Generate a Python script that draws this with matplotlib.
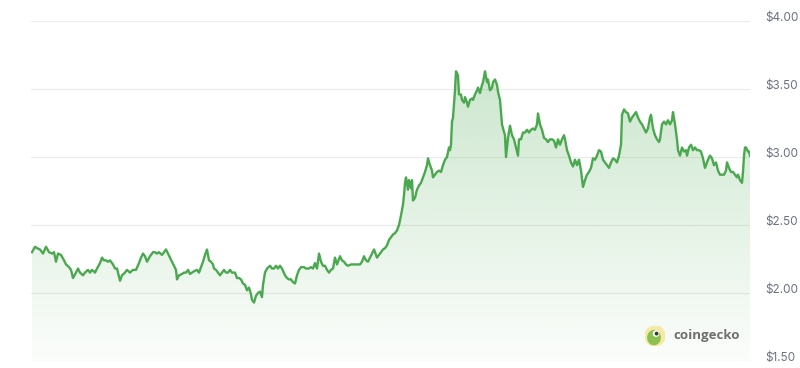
import numpy as np
import matplotlib
import matplotlib.pyplot as plt
import matplotlib.transforms as mtransforms
from matplotlib.patches import Circle, Ellipse

# price history (day offset, USD)
day = [0.5, 2, 3, 4.5, 6, 7.5, 9, 10.5, 11.5, 12.5, 13.5, 15, 16.5, 17.5, 19, 20, 21, 22.5, 23.5, 24.5,
       26, 27, 28.5, 29.5, 30.5, 32, 33, 34.5, 35.5, 36.5, 37.5, 38.5, 39.5, 41, 42, 43, 44.5, 45.5, 47, 48,
       49.5, 51, 52.5, 54, 55, 56, 57, 58, 59.5, 61, 62, 63, 64, 65.5, 66.5, 67.5, 68.5, 69.5, 70.5, 71.5,
       72.5, 73, 74, 75.5, 76.5, 77.5, 78.5, 79.5, 80.5, 81.5, 83, 84, 85, 86, 87, 88, 88.5, 89, 90, 91,
       91.5, 92.5, 93.5, 94.5, 95.5, 96.5, 97.5, 98.5, 99.5, 100.5, 102, 103, 104, 105, 106, 107, 108, 109, 110, 110.5,
       111.5, 112.5, 113.5, 114.5, 115.5, 116, 117, 118, 119.5, 120.5, 121.5, 122.5, 123.5, 124.5, 125.5, 127, 128, 129, 130, 131,
       132, 133, 134, 135, 136.5, 137.5, 139, 140, 141, 142, 143, 144, 145, 146, 147, 148, 149, 150, 151, 152,
       153, 153.5, 154.5, 155.5, 156.5, 157.5, 158.5, 160, 161, 162.5, 163.5, 164.5, 165.5, 166.5, 167.5, 168.5, 169.5, 170.5, 171.5, 172,
       173, 174, 175, 176, 177, 178, 179, 180, 181, 182, 183, 184, 185, 186, 186.5, 187, 187.5, 188.5, 189, 190,
       190.5, 191, 192, 193, 194, 195, 196, 197, 198, 198.5, 199.5, 200.5, 201, 202, 203, 204, 205, 206, 207, 208,
       209, 209.5, 210, 210.5, 211, 212, 212.5, 213.5, 214, 215, 215.5, 216.5, 217, 218, 218.5, 219.5, 220.5, 221, 222, 223,
       223.5, 224.5, 225.5, 226, 227, 228, 228.5, 229.5, 230.5, 231, 232, 233, 233.5, 234.5, 235.5, 236, 237, 237.5, 238.5, 239.5,
       240.5, 241.5, 242.5, 243.5, 244, 245, 246, 247, 248, 249, 250, 251, 252, 253, 253.5, 254.5, 255.5, 256.5, 257.5, 258.5,
       259.5, 260.5, 261.5, 262.5, 263.5, 264.5, 265.5, 266.5, 267, 268, 269, 270, 271, 272, 273, 274, 275, 276, 277, 278,
       279, 280, 281, 282, 283, 284, 285, 286, 287, 288, 289, 290, 291, 292, 293, 294, 295, 295.5, 296.5, 297.5,
       298.5, 299.5, 300.5, 301.5, 302.5, 303.5, 304.5, 305.5, 306.5, 307.5, 308.5, 309.5, 310, 311, 312, 313, 314, 314.5, 315.5, 316.5,
       317.5, 318.5, 319.5, 320.5, 321, 322, 323, 323.5, 324.5, 325.5, 326.5, 327.5, 328, 329, 330, 331, 332, 333, 334, 335,
       336, 337, 338, 338.5, 339.5, 340.5, 341.5, 342.5, 343.5, 344.5, 345.5, 346.5, 347.5, 348, 349, 350, 351, 352, 353, 353.5,
       354.5, 355.5, 356, 356.5, 357, 357.5, 358.5, 359, 359.5]
price = [2.30, 2.34, 2.33, 2.32, 2.29, 2.34, 2.30, 2.29, 2.30, 2.23, 2.29, 2.28, 2.24, 2.21, 2.19, 2.17, 2.11, 2.15, 2.18, 2.15,
         2.13, 2.15, 2.17, 2.15, 2.17, 2.15, 2.18, 2.22, 2.26, 2.24, 2.24, 2.23, 2.24, 2.21, 2.18, 2.18, 2.09, 2.13, 2.15, 2.17,
         2.15, 2.17, 2.17, 2.22, 2.26, 2.29, 2.27, 2.23, 2.27, 2.30, 2.30, 2.29, 2.30, 2.28, 2.30, 2.32, 2.29, 2.26, 2.23, 2.20,
         2.17, 2.10, 2.13, 2.14, 2.15, 2.15, 2.17, 2.14, 2.15, 2.16, 2.17, 2.15, 2.19, 2.23, 2.28, 2.32, 2.28, 2.24, 2.23, 2.21,
         2.18, 2.17, 2.15, 2.13, 2.15, 2.17, 2.15, 2.15, 2.17, 2.15, 2.15, 2.11, 2.11, 2.10, 2.07, 2.06, 2.02, 2.04, 1.99, 1.95,
         1.93, 1.98, 2.00, 2.01, 1.97, 2.06, 2.15, 2.18, 2.20, 2.18, 2.18, 2.20, 2.18, 2.20, 2.18, 2.13, 2.11, 2.10, 2.10, 2.08,
         2.07, 2.13, 2.17, 2.19, 2.19, 2.18, 2.18, 2.19, 2.18, 2.22, 2.18, 2.29, 2.23, 2.20, 2.20, 2.17, 2.15, 2.17, 2.18, 2.26,
         2.21, 2.23, 2.27, 2.24, 2.23, 2.21, 2.20, 2.21, 2.21, 2.21, 2.21, 2.21, 2.23, 2.27, 2.24, 2.23, 2.26, 2.29, 2.32, 2.30,
         2.26, 2.28, 2.30, 2.32, 2.33, 2.35, 2.39, 2.41, 2.43, 2.44, 2.46, 2.50, 2.57, 2.65, 2.72, 2.81, 2.85, 2.76, 2.83, 2.77,
         2.83, 2.68, 2.70, 2.76, 2.79, 2.81, 2.85, 2.89, 2.94, 2.99, 2.94, 2.90, 2.85, 2.87, 2.89, 2.90, 2.89, 2.94, 2.98, 3.00,
         3.07, 3.05, 3.09, 3.26, 3.29, 3.49, 3.63, 3.60, 3.46, 3.46, 3.42, 3.40, 3.44, 3.40, 3.37, 3.42, 3.43, 3.42, 3.46, 3.49,
         3.51, 3.47, 3.53, 3.55, 3.63, 3.55, 3.57, 3.49, 3.51, 3.55, 3.57, 3.53, 3.48, 3.42, 3.24, 3.21, 3.16, 3.00, 3.14, 3.23,
         3.16, 3.13, 3.07, 3.01, 3.13, 3.13, 3.18, 3.18, 3.20, 3.18, 3.20, 3.21, 3.20, 3.24, 3.32, 3.24, 3.20, 3.14, 3.13, 3.11,
         3.13, 3.13, 3.12, 3.07, 3.13, 3.09, 3.13, 3.16, 3.13, 3.05, 3.01, 2.96, 2.93, 2.98, 2.94, 2.98, 2.90, 2.78, 2.83, 2.87,
         2.89, 2.92, 2.99, 2.98, 3.01, 3.05, 3.04, 2.98, 2.96, 2.94, 2.92, 2.96, 2.99, 2.98, 2.96, 3.01, 3.09, 3.31, 3.35, 3.33,
         3.32, 3.26, 3.29, 3.31, 3.33, 3.29, 3.26, 3.24, 3.21, 3.18, 3.21, 3.29, 3.31, 3.21, 3.16, 3.13, 3.11, 3.13, 3.24, 3.26,
         3.24, 3.27, 3.24, 3.27, 3.33, 3.24, 3.13, 3.05, 3.01, 3.07, 3.04, 3.05, 3.01, 3.07, 3.09, 3.05, 3.07, 3.05, 3.05, 3.04,
         2.99, 2.92, 2.96, 2.98, 3.01, 2.99, 2.94, 2.96, 2.90, 2.87, 2.87, 2.87, 2.90, 2.96, 2.92, 2.89, 2.89, 2.87, 2.85, 2.87,
         2.83, 2.81, 2.89, 3.01, 3.07, 3.07, 3.04, 3.04, 3.01]

yticks = [1.5, 2.0, 2.5, 3.0, 3.5, 4.0]
ytick_labels = ['$1.50', '$2.00', '$2.50', '$3.00', '$3.50', '$4.00']

green = '#4aa84f'

fig = plt.figure(figsize=(8, 3.68), dpi=100)
ax = fig.add_axes([31 / 800, 7 / 368, 719 / 800, 340 / 368])
ax.set_xlim(0, 359.5)
ax.set_ylim(1.5, 4.0)

for v in yticks:
    ax.axhline(v, color='#ebebeb', lw=0.8, zorder=0)

# gradient under the line
n = 256
rgba = np.zeros((n, 1, 4))
rgba[..., :3] = matplotlib.colors.to_rgb(green)
rgba[..., 3] = np.linspace(0.02, 0.28, n).reshape(-1, 1)
im = ax.imshow(rgba, extent=[0, 359.5, 1.5, max(price)], origin='lower',
               aspect='auto', zorder=1, interpolation='bilinear')
poly = ax.fill_between(day, price, 1.5, color='none', lw=0)
im.set_clip_path(poly.get_paths()[0], transform=ax.transData)

ax.plot(day, price, color=green, lw=1.7, zorder=3, solid_joinstyle='round')

for s in ax.spines.values():
    s.set_visible(False)
ax.set_xticks([])
ax.set_yticks([])

offset = mtransforms.ScaledTranslation(15 / 100, 3 / 100, fig.dpi_scale_trans)
for v, lab in zip(yticks, ytick_labels):
    ax.text(1.0, v, lab, transform=ax.get_yaxis_transform() + offset,
            ha='left', va='center', fontsize=8.5, color='#6b7280', family='Inter')

# coingecko mark
lax = fig.add_axes([645 / 800, (368 - 346) / 368, 20 / 800, 20 / 368])
lax.set_xlim(0, 1)
lax.set_ylim(0, 1)
lax.axis('off')
lax.add_patch(Circle((0.5, 0.5), 0.5, color='#f6e9a6'))
lax.add_patch(Ellipse((0.45, 0.42), 0.62, 0.7, color='#8cc152'))
lax.add_patch(Circle((0.55, 0.62), 0.13, color='white'))
lax.add_patch(Circle((0.58, 0.62), 0.06, color='#2f3b2f'))
fig.text(673 / 800, (368 - 335) / 368, 'coingecko', ha='left', va='center',
         fontsize=9.5, fontweight='bold', color='#6e6e6e', family='Open Sans')

fig.savefig('out.png', dpi=100)
